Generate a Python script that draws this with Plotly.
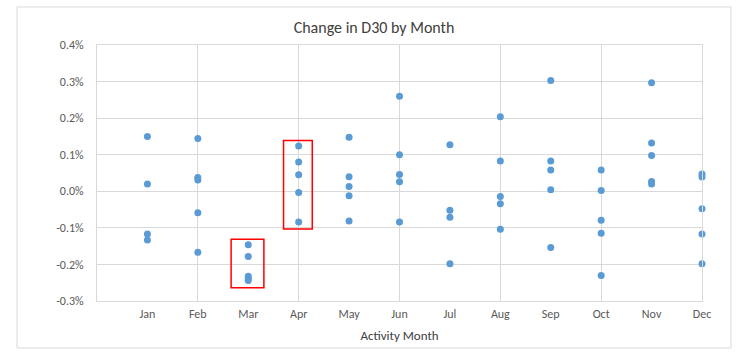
import plotly.graph_objects as go

# ---- data (values in %) ----
months = ["Jan", "Feb", "Mar", "Apr", "May", "Jun", "Jul", "Aug", "Sep", "Oct", "Nov", "Dec"]
jan = [0.150, 0.020, -0.117, -0.133]
feb = [0.144, 0.038, 0.031, -0.059, -0.167]
mar = [-0.146, -0.178, -0.232, -0.238, -0.244]
apr = [0.124, 0.080, 0.045, -0.003, -0.084]
may = [0.148, 0.040, 0.013, -0.012, -0.081]
jun = [0.260, 0.100, 0.046, 0.026, -0.084]
jul = [0.127, -0.052, -0.071, -0.198]
aug = [0.204, 0.083, -0.014, -0.034, -0.104]
sep = [0.303, 0.083, 0.058, 0.004, -0.154]
oct_ = [0.058, 0.002, -0.079, -0.115, -0.230]
nov = [0.297, 0.132, 0.098, 0.027, 0.020]
dec = [0.047, 0.039, -0.048, -0.117, -0.198]
month_values = [jan, feb, mar, apr, may, jun, jul, aug, sep, oct_, nov, dec]
month_numbers = list(range(1, 13))
y_ticks = [-0.3, -0.2, -0.1, 0.0, 0.1, 0.2, 0.3, 0.4]
y_tick_labels = [f"{v:.1f}%" for v in y_ticks]

xs, ys = [], []
for m, vals in zip(month_numbers, month_values):
    for v in vals:
        xs.append(m)
        ys.append(v)

# ---- layout geometry ----
W, H = 748, 360
L, R, T, B = 97, 46, 45, 59
pw, ph = W - L - R, H - T - B

def px_to_paper_x(px):
    return (px - L) / pw

def px_to_paper_y(py):
    return (H - B - py) / ph

FONT = "Calibri, Carlito, Lato, sans-serif"
GRID = "#d9d9d9"
TICK_COLOR = "#595959"

fig = go.Figure()
fig.add_trace(go.Scatter(
    x=xs, y=ys, mode="markers",
    marker=dict(color="#5B9BD5", size=7),
    cliponaxis=False, showlegend=False, hoverinfo="x+y",
))

# highlight boxes (Mar and Apr)
boxes = [
    dict(x0=2.66, x1=3.31, y0=-0.264, y1=-0.131),
    dict(x0=3.70, x1=4.27, y0=-0.103, y1=0.139),
]
shapes = []
for b in boxes:
    shapes.append(dict(type="rect", xref="x", yref="y", x0=b["x0"], x1=b["x1"],
                       y0=b["y0"], y1=b["y1"], line=dict(color="#FF0000", width=1.5),
                       fillcolor="rgba(0,0,0,0)"))
# chart-area border
shapes.append(dict(type="rect", xref="paper", yref="paper",
                   x0=px_to_paper_x(17), x1=px_to_paper_x(731),
                   y0=px_to_paper_y(348), y1=px_to_paper_y(7),
                   line=dict(color=GRID, width=1), layer="below"))

fig.update_layout(
    template="none",
    width=W, height=H,
    margin=dict(l=L, r=R, t=T, b=B, pad=0),
    paper_bgcolor="white", plot_bgcolor="white",
    font=dict(family=FONT, size=12, color=TICK_COLOR),
    title=dict(text="Change in D30 by Month", x=0.5, xanchor="center",
               y=1 - 27 / H, yanchor="middle",
               font=dict(family=FONT, size=16, color="#404040")),
    xaxis=dict(range=[0, 12], tick0=0, dtick=2, showgrid=True, gridcolor=GRID,
               gridwidth=1, showticklabels=False, ticks="", zeroline=False,
               showline=True, linecolor=GRID, mirror=True, fixedrange=True),
    xaxis2=dict(overlaying="x", side="bottom", anchor="y", range=[0, 12],
                tickmode="array", tickvals=month_numbers, ticktext=months,
                tickfont=dict(family=FONT, size=12, color=TICK_COLOR),
                showgrid=False, zeroline=False, ticks="", showline=False,
                ticklabelstandoff=4, fixedrange=True,
                title=dict(text="Activity Month", standoff=10,
                           font=dict(family=FONT, size=13, color="#404040"))),
    yaxis=dict(range=[-0.3, 0.4], tickmode="array", tickvals=y_ticks,
               ticktext=y_tick_labels, showgrid=True, gridcolor=GRID, gridwidth=1,
               tickfont=dict(family=FONT, size=12, color=TICK_COLOR),
               zeroline=False, ticks="", showline=True, linecolor=GRID, mirror=True,
               ticklabelstandoff=10, fixedrange=True),
    shapes=shapes,
    showlegend=False,
)
# empty trace to register the label axis
fig.add_trace(go.Scatter(x=[], y=[], xaxis="x2", yaxis="y", showlegend=False, hoverinfo="skip"))

fig.write_html("out.html", config={"displayModeBar": False},
               post_script="document.body.style.margin='0px';")
